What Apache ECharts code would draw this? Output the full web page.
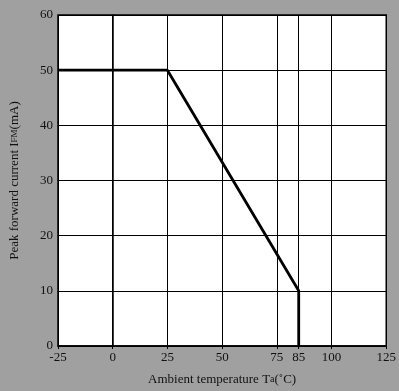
<!DOCTYPE html>
<html>
<head>
<meta charset="utf-8">
<script src="https://cdn.jsdelivr.net/npm/echarts@6/dist/echarts.min.js"></script>
<style>
html,body{margin:0;padding:0;background:#a0a0a0;}
#c{width:399px;height:391px;}
</style>
</head>
<body>
<div id="c"></div>
<script>
const tempC = [-25, 25, 85, 85];
const currentMA = [50, 50, 10, 0];
const xTicks = [-25, 0, 25, 50, 75, 85, 100, 125];
const yTicks = [0, 10, 20, 30, 40, 50, 60];

const chart = echarts.init(document.getElementById('c'));
const font = '"Liberation Serif", "Times New Roman", serif';
chart.setOption({
  backgroundColor: '#a0a0a0',
  animation: false,
  grid: {left: 56, right: 10, top: 15, bottom: 44, show: true, backgroundColor: '#ffffff', borderColor: '#000', borderWidth: 1.5},
  xAxis: {
    type: 'value', min: -25, max: 125, interval: 25,
    name: '{n|Ambient temperature T}{s|a}{n|(˚C)}',
    nameLocation: 'middle', nameGap: 27,
    nameTextStyle: {rich: {n: {fontFamily: font, fontSize: 13, color: '#111'}, s: {fontFamily: font, fontSize: 10, color: '#111'}}},
    axisLine: {show: true, lineStyle: {color: '#000', width: 1.5}},
    axisTick: {show: true, length: 3, lineStyle: {color: '#000'}, customValues: xTicks},
    axisLabel: {customValues: xTicks, color: '#111', fontFamily: font, fontSize: 13, margin: 5},
    splitLine: {show: true, lineStyle: {color: '#000', width: 1}}
  },
  yAxis: {
    type: 'value', min: 0, max: 60, interval: 10,
    name: '{n|Peak forward current I}{s|FM}{n|(mA)}',
    nameLocation: 'middle', nameGap: 37,
    nameTextStyle: {rich: {n: {fontFamily: font, fontSize: 13, color: '#111'}, s: {fontFamily: font, fontSize: 9, color: '#111'}}},
    axisLine: {show: true, lineStyle: {color: '#000', width: 1.5}},
    axisTick: {show: true, length: 3, lineStyle: {color: '#000'}},
    axisLabel: {color: '#111', fontFamily: font, fontSize: 13, margin: 5, customValues: yTicks},
    splitLine: {show: true, lineStyle: {color: '#000', width: 1}}
  },
  series: [{
    type: 'line',
    data: tempC.map((t, i) => [t, currentMA[i]]),
    symbol: 'none',
    lineStyle: {color: '#000', width: 2.8},
    clip: false
  }]
});
</script>
</body>
</html>
